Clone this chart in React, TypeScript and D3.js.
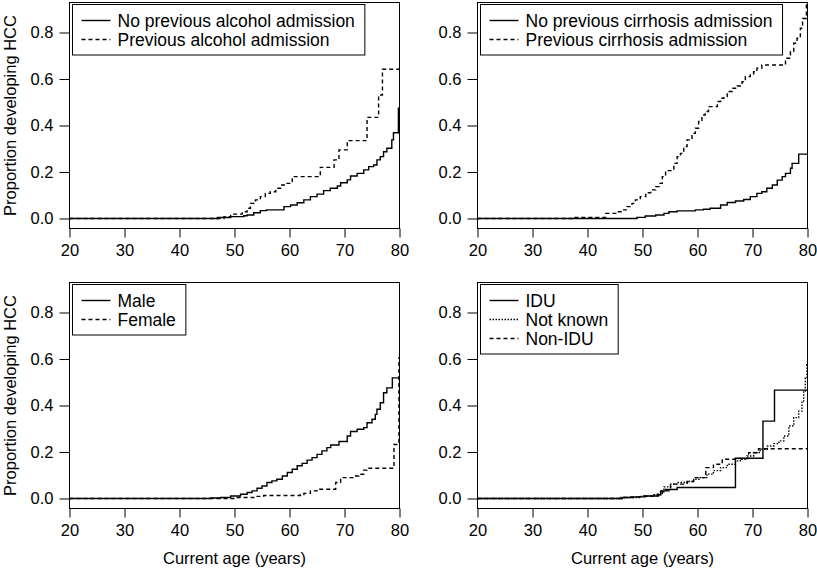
import React, { useEffect, useRef } from 'react';
import * as d3 from 'd3';

// age ticks and proportion ticks
const ageTicks = [20, 30, 40, 50, 60, 70, 80];
const propTicks = [0, 0.2, 0.4, 0.6, 0.8];

// panel 1: alcohol
const alcNoAge = [20, 46.9, 49.3, 51.7, 52.3, 53.5, 54.7, 55.8, 59.0, 60.2, 61.4, 62.6, 63.8, 65.0, 66.2, 67.4, 68.7, 69.3, 70.5, 71.1, 72.3, 73.5, 74.4, 75.3, 75.9, 76.5, 77.1, 77.7, 78.6, 78.9, 79.8, 80];
const alcNoVal = [0, 0.004, 0.008, 0.012, 0.015, 0.025, 0.034, 0.037, 0.051, 0.058, 0.068, 0.080, 0.094, 0.105, 0.120, 0.130, 0.140, 0.154, 0.166, 0.183, 0.194, 0.209, 0.223, 0.230, 0.252, 0.266, 0.287, 0.302, 0.338, 0.369, 0.474, 0.474];
const alcYesAge = [20, 48.1, 49.3, 51.4, 52.3, 52.9, 53.8, 54.7, 55.6, 56.5, 57.5, 58.4, 59.3, 60.5, 65.6, 68.1, 69.0, 70.5, 74.1, 76.2, 76.9, 80];
const alcYesVal = [0, 0.008, 0.019, 0.029, 0.044, 0.065, 0.080, 0.094, 0.108, 0.115, 0.130, 0.144, 0.151, 0.180, 0.220, 0.252, 0.295, 0.335, 0.435, 0.531, 0.642, 0.642];

// panel 2: cirrhosis
const cirNoAge = [20, 49.0, 50.5, 52.4, 53.9, 54.8, 56.3, 59.6, 61.1, 62.3, 64.2, 65.4, 66.9, 68.4, 69.6, 70.8, 71.7, 72.6, 73.6, 74.5, 75.4, 76.0, 76.9, 77.2, 78.4, 80];
const cirNoVal = [0, 0.005, 0.011, 0.015, 0.022, 0.029, 0.033, 0.037, 0.040, 0.044, 0.058, 0.069, 0.075, 0.082, 0.094, 0.108, 0.115, 0.130, 0.144, 0.165, 0.180, 0.194, 0.216, 0.237, 0.277, 0.277];
const cirYesAge = [20, 37.5, 43.3, 45.4, 46.3, 47.2, 48.1, 48.7, 49.6, 50.6, 51.5, 52.4, 53.0, 53.6, 54.2, 55.7, 56.3, 56.9, 57.5, 58.1, 59.0, 59.6, 60.2, 60.8, 61.4, 62.0, 63.6, 64.2, 64.8, 65.4, 66.3, 67.2, 68.1, 68.7, 69.6, 70.2, 70.8, 71.7, 76.0, 76.9, 77.5, 78.1, 78.7, 79.1, 79.8, 80];
const cirYesVal = [0, 0.005, 0.022, 0.029, 0.037, 0.051, 0.065, 0.080, 0.094, 0.111, 0.123, 0.137, 0.151, 0.180, 0.206, 0.237, 0.266, 0.280, 0.309, 0.338, 0.366, 0.388, 0.417, 0.445, 0.460, 0.481, 0.503, 0.517, 0.524, 0.546, 0.560, 0.570, 0.588, 0.610, 0.621, 0.631, 0.646, 0.660, 0.689, 0.718, 0.754, 0.775, 0.818, 0.860, 0.918, 0.918];

// panel 3: sex
const maleAge = [20, 45.6, 47.5, 49.3, 51.1, 52.3, 53.2, 54.1, 55.0, 55.9, 56.8, 57.7, 58.7, 59.6, 60.5, 61.4, 62.3, 63.2, 64.1, 65.0, 65.9, 66.8, 67.5, 69.0, 70.5, 71.1, 72.3, 73.5, 74.1, 75.0, 75.6, 75.9, 76.5, 77.1, 77.7, 78.7, 80];
const maleVal = [0, 0.002, 0.004, 0.011, 0.018, 0.026, 0.033, 0.044, 0.054, 0.069, 0.076, 0.083, 0.097, 0.112, 0.126, 0.141, 0.151, 0.165, 0.176, 0.190, 0.205, 0.219, 0.230, 0.245, 0.269, 0.288, 0.298, 0.305, 0.326, 0.341, 0.362, 0.384, 0.412, 0.455, 0.476, 0.519, 0.519];
const femaleAge = [20, 50.5, 53.5, 55.3, 62.0, 62.6, 63.8, 65.0, 68.4, 69.3, 71.7, 72.6, 73.5, 74.1, 79.0, 79.9, 80];
const femaleVal = [0, 0.004, 0.009, 0.013, 0.016, 0.022, 0.033, 0.040, 0.069, 0.090, 0.097, 0.104, 0.122, 0.130, 0.232, 0.605, 0.605];

// panel 4: IDU
const iduAge = [20, 46.3, 48.4, 50.5, 52.9, 53.3, 54.2, 56.3, 66.9, 71.9, 74.0, 80];
const iduVal = [0, 0.004, 0.007, 0.011, 0.016, 0.033, 0.039, 0.047, 0.173, 0.333, 0.466, 0.466];
const unkAge = [20, 46.5, 49.6, 52.1, 53.3, 53.9, 55.1, 56.3, 58.1, 59.3, 60.5, 61.7, 62.9, 64.2, 65.4, 66.9, 67.8, 69.0, 70.2, 71.4, 72.7, 73.9, 74.8, 75.7, 76.6, 77.5, 78.4, 79.0, 79.3, 79.6, 79.9, 80];
const unkVal = [0, 0.004, 0.009, 0.016, 0.029, 0.050, 0.062, 0.069, 0.073, 0.083, 0.090, 0.105, 0.120, 0.133, 0.147, 0.162, 0.169, 0.183, 0.198, 0.212, 0.226, 0.236, 0.248, 0.269, 0.312, 0.348, 0.376, 0.419, 0.462, 0.519, 0.576, 0.576];
const nonIduAge = [20, 46.0, 47.2, 49.6, 52.7, 53.6, 55.1, 58.1, 59.3, 61.5, 62.9, 64.5, 66.9, 69.3, 71.1, 80];
const nonIduVal = [0, 0.004, 0.007, 0.011, 0.018, 0.033, 0.062, 0.073, 0.090, 0.133, 0.147, 0.169, 0.172, 0.197, 0.214, 0.214];

const SOLID = '';
const DASHED = '4,3';
const DOTTED = '1.5,1.5';

const panels = [
  {
    x0: 69.5, y0: 2.5, ylab: true, xlab: false,
    series: [
      { label: 'No previous alcohol admission', age: alcNoAge, val: alcNoVal, dash: SOLID },
      { label: 'Previous alcohol admission', age: alcYesAge, val: alcYesVal, dash: DASHED },
    ],
  },
  {
    x0: 477.5, y0: 2.5, ylab: false, xlab: false,
    series: [
      { label: 'No previous cirrhosis admission', age: cirNoAge, val: cirNoVal, dash: SOLID },
      { label: 'Previous cirrhosis admission', age: cirYesAge, val: cirYesVal, dash: DASHED },
    ],
  },
  {
    x0: 69.5, y0: 282.5, ylab: true, xlab: true,
    series: [
      { label: 'Male', age: maleAge, val: maleVal, dash: SOLID },
      { label: 'Female', age: femaleAge, val: femaleVal, dash: DASHED },
    ],
  },
  {
    x0: 477.5, y0: 282.5, ylab: false, xlab: true,
    series: [
      { label: 'IDU', age: iduAge, val: iduVal, dash: SOLID },
      { label: 'Not known', age: unkAge, val: unkVal, dash: DOTTED },
      { label: 'Non-IDU', age: nonIduAge, val: nonIduVal, dash: DASHED },
    ],
  },
];

const FONT = '"Liberation Sans", Arial, Helvetica, sans-serif';

const App = () => {
  const ref = useRef<SVGSVGElement>(null);

  useEffect(() => {
    const svg = d3.select(ref.current);
    svg.selectAll('*').remove();
    const pw = 330;
    const ph = 226;

    panels.forEach((p) => {
      const x = d3.scaleLinear().domain([20, 80]).range([p.x0, p.x0 + pw]);
      const y = d3.scaleLinear().domain([-0.043, 0.929]).range([p.y0 + ph, p.y0]);
      const g = svg.append('g');

      // axes
      const xa = g.append('g')
        .attr('transform', `translate(0,${p.y0 + ph})`)
        .call(d3.axisBottom(x).tickValues(ageTicks).tickSize(9).tickPadding(7).tickSizeOuter(0));
      const ya = g.append('g')
        .attr('transform', `translate(${p.x0},0)`)
        .call(d3.axisLeft(y).tickValues(propTicks).tickFormat(d3.format('.1f')).tickSize(10).tickPadding(6).tickSizeOuter(0));
      [xa, ya].forEach((a) => {
        a.select('.domain').remove();
        a.selectAll('line').attr('stroke', '#000');
        a.selectAll('text').attr('font-family', FONT).attr('font-size', 16.5).attr('fill', '#000');
      });

      // curves
      const line = d3.line<[number, number]>()
        .x((d) => x(d[0]))
        .y((d) => y(d[1]))
        .curve(d3.curveStepAfter);
      p.series.forEach((s) => {
        const pts = s.age.map((a, i) => [a, s.val[i]] as [number, number]);
        g.append('path')
          .attr('d', line(pts))
          .attr('fill', 'none')
          .attr('stroke', '#000')
          .attr('stroke-width', 1.4)
          .attr('stroke-dasharray', s.dash || null);
      });

      // frame
      g.append('rect')
        .attr('x', p.x0).attr('y', p.y0)
        .attr('width', pw).attr('height', ph)
        .attr('fill', 'none').attr('stroke', '#000');

      // legend
      const lx = p.x0 + 3;
      const ly = p.y0 + 2;
      const rowH = 19;
      const lg = g.append('g');
      const box = lg.append('rect')
        .attr('x', lx).attr('y', ly)
        .attr('height', p.series.length * rowH + 12.5)
        .attr('fill', '#fff').attr('stroke', '#000');
      let maxW = 0;
      p.series.forEach((s, i) => {
        const cy = ly + 16 + i * rowH;
        lg.append('line')
          .attr('x1', lx + 9).attr('x2', lx + 38)
          .attr('y1', cy).attr('y2', cy)
          .attr('stroke', '#000').attr('stroke-width', 1.4)
          .attr('stroke-dasharray', s.dash || null);
        const t = lg.append('text')
          .attr('x', lx + 45).attr('y', cy + 6)
          .attr('font-family', FONT).attr('font-size', 17.5)
          .text(s.label);
        maxW = Math.max(maxW, (t.node() as SVGTextElement).getComputedTextLength());
      });
      box.attr('width', 45 + maxW + 10);

      if (p.ylab) {
        g.append('text')
          .attr('transform', `translate(15.5,${p.y0 + ph / 2}) rotate(-90)`)
          .attr('text-anchor', 'middle')
          .attr('font-family', FONT).attr('font-size', 16.5)
          .text('Proportion developing HCC');
      }
      if (p.xlab) {
        g.append('text')
          .attr('x', p.x0 + pw / 2).attr('y', p.y0 + ph + 55)
          .attr('text-anchor', 'middle')
          .attr('font-family', FONT).attr('font-size', 16.5)
          .text('Current age (years)');
      }
    });
  }, []);

  return (
    <svg ref={ref} width={817} height={571}
      style={{ position: 'absolute', left: 0, top: 0, background: '#fff' }} />
  );
};

export default App;
